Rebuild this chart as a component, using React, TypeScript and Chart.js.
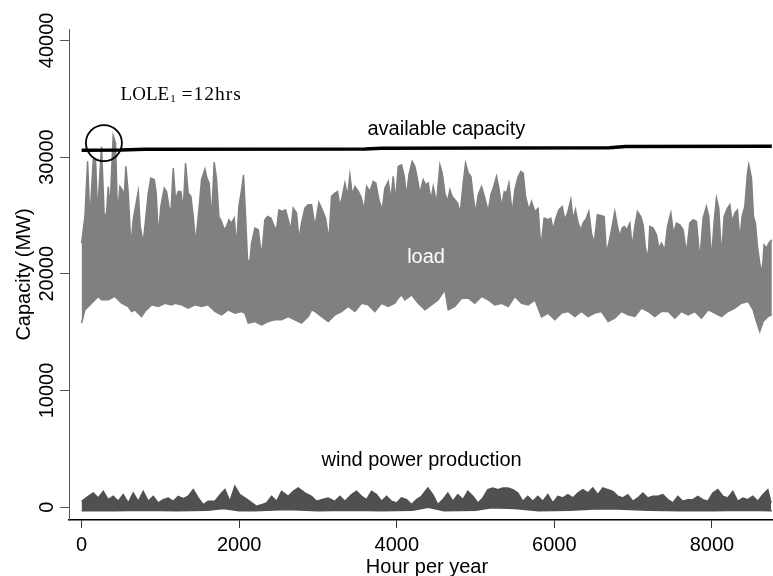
import React, { useEffect, useRef } from 'react';
import { Chart, registerables } from 'chart.js';

Chart.register(...registerables);

// ---------- data (MW vs hour of year) ----------
const loadUpperHours = [
  0, 42, 76, 105, 148, 177, 203, 253, 287, 317, 338, 359, 401, 431, 456, 486, 516, 541, 562, 592,
  626, 655, 685, 719, 744, 782, 812, 846, 879, 922, 947, 973, 1006, 1049, 1078, 1108, 1133, 1163, 1192, 1226,
  1260, 1290, 1319, 1353, 1387, 1417, 1446, 1489, 1522, 1565, 1590, 1620, 1649, 1683, 1713, 1742, 1776, 1810, 1840, 1869,
  1903, 1937, 1967, 1996, 2030, 2055, 2081, 2106, 2136, 2157, 2199, 2242, 2284, 2326, 2360, 2402, 2445, 2474, 2504, 2546,
  2588, 2622, 2656, 2686, 2728, 2758, 2791, 2834, 2876,
  2919, 2961, 3012, 3054, 3096, 3139, 3172, 3215, 3249, 3278, 3308, 3342, 3375, 3405, 3435, 3469, 3511, 3545, 3587, 3617,
  3659, 3701, 3735, 3773, 3815, 3849, 3892, 3925, 3955, 3985, 4018, 4061, 4095, 4124, 4154, 4196, 4230, 4264, 4293, 4336,
  4365, 4399, 4433, 4463, 4505, 4547, 4577, 4611, 4644, 4674, 4704, 4738, 4771, 4805, 4843, 4873, 4907, 4941, 4970, 5000,
  5034, 5076, 5118, 5161, 5194, 5224, 5266, 5296, 5330, 5364, 5393, 5423, 5465, 5499, 5541, 5575, 5605, 5634, 5677, 5710,
  5753,
  5794, 5828, 5870, 5921, 5955, 5985, 6014, 6057, 6099, 6133, 6167, 6209, 6238, 6268, 6302, 6336, 6365, 6408, 6437, 6471,
  6505, 6547, 6598, 6632, 6661, 6691, 6725, 6767, 6801, 6831, 6860, 6886, 6919, 6958, 6987, 7021, 7055, 7097, 7127, 7156,
  7190, 7211, 7254, 7296, 7326, 7359, 7402, 7436, 7478, 7512, 7550, 7592, 7634, 7677, 7719, 7761, 7804, 7846, 7888, 7930,
  7960, 7994, 8028, 8057, 8087, 8121, 8155, 8197, 8227, 8256, 8290, 8324, 8354, 8383, 8417, 8451, 8468, 8502, 8527, 8552,
  8578, 8607, 8637, 8662, 8692, 8722, 8760,
];
const loadUpperMW = [
  22630, 24910, 29630, 24630, 29770, 29770, 25200, 30910, 24910, 25200, 27480, 25480, 31830, 31200, 24910, 27480, 27200, 26630, 29200, 26910,
  22340, 24630, 25770, 27050, 24060, 22630, 24630, 26910, 28200, 28060, 26910, 23200, 25770, 27340, 27050, 25770, 25200, 29050, 26340, 27050,
  27050, 25480, 29480, 26910, 26630, 24910, 22630, 25480, 28060, 28970, 28200, 27770, 24630, 29570, 28060, 24910, 24480, 23770, 24060, 24630,
  24340, 24770, 22340, 25770, 27200, 28480, 24910, 21200, 21060, 22630, 23910, 23770, 21480, 24630, 24910, 24770, 24060, 23770, 25480, 25340,
  25480, 24630, 23770, 25630, 25200, 22910, 24340, 25630, 25910,
  25910, 24060, 26110, 25480, 24770, 22910, 26630, 26910, 27050, 25770, 26630, 27770, 26630, 28480, 26770, 27480, 27050, 26630, 25480, 27480,
  27050, 27910, 27770, 26340, 25480, 27340, 27910, 26340, 28340, 26200, 29200, 29340, 28340, 26630, 28480, 29630, 29200, 28060, 26910, 28060,
  27630, 27770, 26340, 27480, 26060, 29340, 28630, 26910, 26200, 27200, 26630, 26340, 26060, 25200, 27770, 29480, 28630, 28340, 26630, 25200,
  26770, 27480, 26480, 25340, 26770, 27340, 28340, 27340, 25770, 27050, 26910, 27770, 25200, 27200, 28340, 28770, 28630, 26630, 25480, 26200,
  25340,
  25600, 22200, 24770, 24630, 24770, 23770, 24630, 25480, 25770, 24630, 25200, 26340, 24630, 25480, 24340, 23770, 24340, 24770, 25340, 23480,
  22630, 25060, 24970, 24910, 21770, 22630, 23770, 25340, 24060, 23200, 23910, 24060, 23770, 24340, 22340, 24060, 25340, 24910, 24200, 22200,
  21340, 24060, 23910, 23340, 22200, 22630, 22060, 24060, 25200, 23480, 24340, 24200, 23770, 21770, 24340, 24630, 24480, 21200, 24770, 25770,
  24910, 21200, 24480, 26480, 25630, 21480, 24910, 25630, 25910, 24480, 25200, 25480, 22910, 24910, 25770, 28630, 29340, 28200, 24910, 24340,
  22340, 20910, 20060, 22480, 22200, 22630, 22910,
];

const loadLowerHours = [
  0, 42, 127, 211, 253, 338, 423, 507, 592, 634, 676, 761, 803, 888, 973, 1057, 1142, 1184, 1269, 1353,
  1438, 1522, 1607, 1692, 1776, 1861, 1945, 2030, 2072, 2115, 2199, 2284, 2368, 2453, 2538, 2622, 2707, 2791, 2876,
  2919, 2961, 3046, 3130, 3215, 3299, 3384, 3469, 3553, 3638, 3722, 3807, 3892, 3976, 4018, 4061, 4103, 4188, 4272, 4357,
  4441, 4526, 4611, 4653, 4738, 4822, 4907, 4991, 5076, 5161, 5245, 5330, 5414, 5499, 5584, 5668, 5753,
  5837, 5921, 6006, 6090, 6175, 6260, 6344, 6429, 6513, 6598, 6683, 6767, 6852, 6936, 7021, 7106, 7190, 7275, 7359, 7444,
  7529, 7613, 7698, 7782, 7867, 7952, 8036, 8121, 8205, 8290, 8375, 8459, 8523, 8565, 8607, 8650, 8713, 8760,
];
const loadLowerMW = [
  15770, 16910, 17480, 18060, 17770, 17770, 18060, 17480, 17200, 16770, 16910, 16340, 16770, 17340, 17200, 17480, 17340, 17480, 17340, 17060,
  17340, 17200, 17340, 16770, 16480, 16910, 16630, 16770, 16630, 15770, 15910, 15630, 15910, 16060, 16060, 16340, 16060, 15770, 16340,
  16910, 16770, 16340, 15910, 16480, 16770, 17200, 16770, 17480, 17340, 16770, 17480, 17200, 17480, 17910, 18200, 17770, 18200, 17480, 16910,
  17340, 17770, 18630, 16910, 17200, 17910, 17910, 17480, 18060, 17770, 17340, 17480, 17200, 18060, 17480, 17340, 17770,
  16300, 16630, 16060, 16630, 16770, 16340, 16770, 16340, 16630, 16770, 15910, 16200, 16770, 16480, 16340, 17060, 16770, 16340, 16770, 16770,
  16200, 16770, 16480, 16770, 16200, 16910, 16630, 16340, 16770, 17060, 17480, 17630, 16910, 15910, 15060, 15910, 16340, 16480,
];

const windUpperHours = [
  0, 84, 148, 211, 275, 338, 401, 465, 528, 592, 655, 719, 782, 846, 909, 973, 1036, 1099, 1163, 1226,
  1290, 1353, 1417, 1480, 1544, 1607, 1692, 1776, 1819, 1882, 1945, 2009, 2072, 2136, 2220, 2284, 2347, 2411, 2474, 2538,
  2622, 2686, 2749, 2834, 2918, 2982, 3045, 3130, 3214, 3278, 3341, 3426, 3489, 3553, 3616, 3680, 3743, 3807, 3870, 3934,
  3997, 4060, 4124, 4187, 4251, 4314,
  4394, 4458, 4521, 4585, 4648, 4712, 4775, 4839, 4902, 4966, 5029, 5092, 5156, 5219, 5283, 5346, 5410, 5473, 5537, 5600,
  5663, 5727, 5790, 5854, 5917, 5981, 6044, 6108, 6171, 6235, 6298, 6361, 6425, 6488, 6552, 6615, 6679, 6742, 6806, 6869,
  6932, 6996, 7059, 7123, 7186, 7250, 7313, 7377, 7440, 7504, 7567, 7630, 7694, 7757, 7821, 7884, 7948, 8011, 8075, 8138,
  8201, 8265, 8328, 8392, 8455, 8519, 8582, 8646, 8709, 8751,
];
const windUpperMW = [
  511, 940, 1225, 797, 1368, 654, 940, 511, 1082, 368, 1225, 511, 1368, 511, 940, 368, 654, 797, 511, 940,
  740, 940, 1511, 797, 225, 511, 511, 1225, 1511, 511, 1797, 1082, 797, 511, 82, 225, 368, 940, 511, 1368,
  940, 1368, 1654, 1225, 940, 511, 654, 797, 511, 940, 511, 1082, 1368, 940, 654, 1368, 1082, 511, 940, 511,
  368, 797, 654, 225, 654, 940,
  1654, 1082, 225, 654, 1225, 511, 1082, 654, 1368, 940, 368, 797, 1511, 1654, 1511, 1654, 1654, 1511, 1225, 511,
  940, 511, 940, 511, 1082, 368, 940, 797, 1082, 797, 1225, 1511, 1225, 1654, 1082, 1654, 1511, 1368, 940, 797,
  1082, 511, 797, 1225, 797, 940, 940, 1082, 654, 368, 940, 511, 654, 654, 940, 654, 511, 1225, 1511, 940,
  797, 1368, 511, 797, 654, 940, 511, 1082, 1511, 368,
];

const windLowerHours = [0, 400, 800, 1200, 1600, 1800, 2000, 2200, 2600, 3000, 3400, 3800, 4200, 4400, 4600, 5000, 5200, 5500, 5800, 6200, 6500, 6800, 7200, 7600, 8000, 8400, 8760];
const windLowerMW = [-300, -300, -250, -300, -250, -100, -300, -300, -200, -300, -250, -300, -250, 0, -300, -250, -50, -100, -300, -250, -150, -150, -250, -300, -300, -250, -300];

const capacityHours = [0, 500, 800, 3600, 3800, 6700, 6900, 8760];
const capacityMW = [30580, 30600, 30660, 30690, 30760, 30800, 30900, 30920];

const xTickValues = [0, 2000, 4000, 6000, 8000];
const yTickValues = [0, 10000, 20000, 30000, 40000];

// annotation texts
const labelCapacity = 'available capacity';
const labelLoad = 'load';
const labelWind = 'wind power production';
const loleMain = 'LOLE';
const loleSub = '1';
const loleRest = '=12hrs';
const yTitle = 'Capacity (MW)';
const xTitle = 'Hour per year';

const SANS = '"Liberation Sans", Arial, Helvetica, sans-serif';
const SERIF = '"Liberation Serif", "Times New Roman", serif';

const toPoints = (hs: number[], vs: number[]) => hs.map((h, i) => ({ x: h, y: vs[i] }));

const overlayPlugin = {
  id: 'overlay',
  afterDraw(chart: any) {
    const { ctx, chartArea } = chart;
    const xs = chart.scales.x;
    const ys = chart.scales.y;
    ctx.save();
    ctx.fillStyle = '#000';

    // y tick labels (rotated, reading upward)
    ctx.font = `20px ${SANS}`;
    ctx.textAlign = 'center';
    ctx.textBaseline = 'alphabetic';
    for (const t of ys.ticks) {
      const py = ys.getPixelForValue(t.value);
      ctx.save();
      ctx.translate(52.5, py);
      ctx.rotate(-Math.PI / 2);
      ctx.fillText(String(t.value), 0, 0);
      ctx.restore();
    }

    // y title
    ctx.save();
    ctx.translate(29.5, (chartArea.top + chartArea.bottom) / 2);
    ctx.rotate(-Math.PI / 2);
    ctx.fillText(yTitle, 0, 0);
    ctx.restore();

    // x title
    ctx.fillText(xTitle, 427, 573);

    // series labels
    ctx.fillText(labelCapacity, xs.getPixelForValue(4630), ys.getPixelForValue(31910));
    ctx.fillText(labelWind, xs.getPixelForValue(4315), ys.getPixelForValue(3540));
    ctx.fillStyle = '#fff';
    ctx.fillText(labelLoad, xs.getPixelForValue(4372), ys.getPixelForValue(20965));

    // LOLE annotation
    ctx.fillStyle = '#000';
    ctx.textAlign = 'left';
    const ax = xs.getPixelForValue(495);
    const ay = ys.getPixelForValue(34850);
    ctx.font = `19px ${SERIF}`;
    ctx.fillText(loleMain, ax, ay);
    const w = ctx.measureText(loleMain).width;
    ctx.font = `11px ${SERIF}`;
    ctx.fillText(loleSub, ax + w + 1, ay + 2);
    ctx.font = `19.5px ${SERIF}`;
    (ctx as any).letterSpacing = '1px';
    ctx.fillText(loleRest, ax + 61, ay);
    (ctx as any).letterSpacing = '0px';

    // circle around the loss-of-load events
    ctx.beginPath();
    ctx.arc(xs.getPixelForValue(283), ys.getPixelForValue(31200), 18, 0, Math.PI * 2);
    ctx.lineWidth = 1.8;
    ctx.strokeStyle = '#000';
    ctx.stroke();
    ctx.restore();
  },
};

export default function App() {
  const ref = useRef<HTMLCanvasElement | null>(null);

  useEffect(() => {
    if (!ref.current) return;
    const chart = new Chart(ref.current, {
      type: 'line',
      data: {
        datasets: [
          {
            label: 'available capacity',
            data: toPoints(capacityHours, capacityMW),
            borderColor: '#000',
            borderWidth: 3.5,
            pointRadius: 0,
            fill: false,
          },
          {
            label: 'load (upper)',
            data: toPoints(loadUpperHours, loadUpperMW),
            borderColor: '#808080',
            backgroundColor: '#808080',
            borderWidth: 1.5,
            pointRadius: 0,
            fill: '+1',
          },
          {
            label: 'load (lower)',
            data: toPoints(loadLowerHours, loadLowerMW),
            borderColor: '#808080',
            borderWidth: 1.5,
            pointRadius: 0,
            fill: false,
          },
          {
            label: 'wind (upper)',
            data: toPoints(windUpperHours, windUpperMW),
            borderColor: '#505050',
            backgroundColor: '#505050',
            borderWidth: 1.5,
            pointRadius: 0,
            fill: '+1',
          },
          {
            label: 'wind (lower)',
            data: toPoints(windLowerHours, windLowerMW),
            borderColor: '#505050',
            borderWidth: 1.5,
            pointRadius: 0,
            fill: false,
          },
        ],
      },
      options: {
        animation: false,
        responsive: false,
        devicePixelRatio: 1,
        layout: { padding: { top: 29, left: 0, right: 0, bottom: 0 } },
        plugins: { legend: { display: false }, tooltip: { enabled: false } },
        elements: { line: { tension: 0 } },
        scales: {
          x: {
            type: 'linear',
            min: -160,
            max: 8775,
            afterBuildTicks: (s: any) => { s.ticks = xTickValues.map((v) => ({ value: v })); },
            ticks: {
              autoSkip: false,
              maxRotation: 0,
              padding: 5,
              color: '#000',
              font: { size: 20, family: SANS },
              callback: (v: any) => String(v),
            },
            grid: { drawOnChartArea: false, drawTicks: true, tickLength: 8, color: '#333', lineWidth: 1 },
            border: { display: true, color: '#000', width: 1.5 },
            afterFit: (s: any) => { s.height = 56; },
          },
          y: {
            type: 'linear',
            min: -1090,
            max: 40970,
            afterBuildTicks: (s: any) => { s.ticks = yTickValues.map((v) => ({ value: v })); },
            ticks: { display: false },
            grid: { drawOnChartArea: false, drawTicks: true, tickLength: 9, color: '#555', lineWidth: 1 },
            border: { display: true, color: '#555', width: 1 },
            afterFit: (s: any) => { s.width = 69; },
          },
        },
      },
      plugins: [overlayPlugin],
    } as any);
    return () => chart.destroy();
  }, []);

  return (
    <div style={{ position: 'fixed', left: 0, top: 0, width: 773, height: 576, background: '#fff' }}>
      <canvas ref={ref} width={773} height={576} style={{ display: 'block' }} />
    </div>
  );
}
